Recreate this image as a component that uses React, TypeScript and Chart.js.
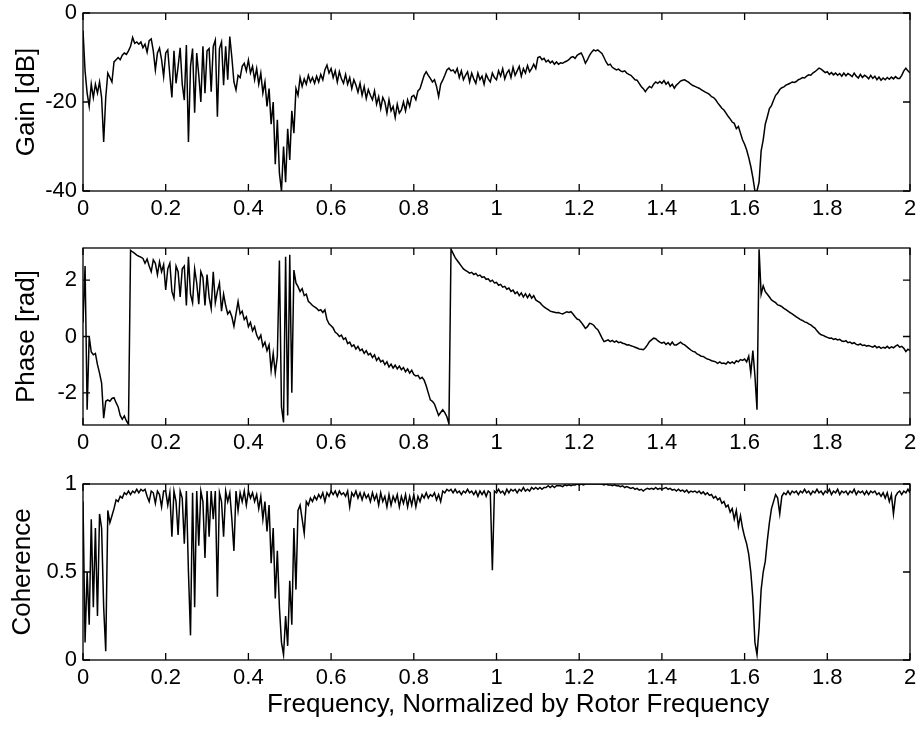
import React, { useEffect, useRef } from "react";
import { Chart, registerables } from "chart.js";

Chart.register(...registerables);

// Frequency grid (normalized by rotor frequency): 0 .. 2 in steps of 0.005 (401 samples)
const FREQ_STEP = 0.005;
const X_TICKS = [0, 0.2, 0.4, 0.6, 0.8, 1, 1.2, 1.4, 1.6, 1.8, 2];
const GAIN_TICKS = [-40, -20, 0];
const PHASE_TICKS = [-2, 0, 2];
const COH_TICKS = [0, 0.5, 1];

// Gain [dB], one row = 0.1 of frequency (20 samples)
const GAIN_DB = [
  -4, -13, -18, -21, -16, -19, -16, -18, -15.5, -19, -29, -19, -13.5, -14.5, -15.5, -11, -10.5, -10, -10.5, -9.5,
  -9, -9.3, -8.5, -7.5, -5.5, -6.8, -6.5, -7, -6.5, -7.8, -7, -8.8, -6.2, -5.8, -8.5, -12.8, -9, -7.9, -10.5, -14.3,
  -9, -8.3, -14, -19, -8.5, -15.8, -12, -7.8, -16, -19.6, -7.2, -29, -12, -8, -22.4, -9, -14, -20, -7.5, -18,
  -8.5, -8, -17.7, -7.5, -6.1, -23.3, -8, -6.5, -16.2, -7.5, -15, -5.3, -10, -15.5, -17.3, -14, -14.5, -12, -11.3, -13,
  -10.6, -13.5, -12, -15, -12.5, -16, -13.5, -18, -15.5, -21, -17, -25, -20, -34, -24, -36, -40, -30, -38, -26,
  -33, -22, -27, -17, -18.5, -14.5, -16.5, -14.8, -16, -14, -15.5, -14.5, -15.8, -14.2, -15.5, -13.8, -15, -12.8, -11.7, -13.5,
  -12.5, -14.5, -13, -15.5, -13.2, -14.8, -15.8, -13.8, -16, -14.5, -17, -15, -16.2, -17.8, -15.8, -18.5, -16.5, -19.2, -17.2, -18.5,
  -19.5, -17.5, -20.5, -18.8, -21.5, -19, -20, -22.5, -19.5, -22, -21, -23.5, -20.5, -22.5, -21.8, -20, -22, -19.5, -21, -18.8,
  -18.5, -19.5, -17.5, -17, -15.5, -14, -13.2, -14, -14.7, -15.5, -15, -16.5, -18.8, -16, -15.1, -14, -12.8, -12.4, -13, -12.8,
  -13.5, -12.5, -14.5, -13, -15, -14, -13.2, -15.5, -13.5, -14.8, -15.8, -13.5, -15, -14.2, -16, -13.8, -14.8, -15.5, -13.5, -14.5,
  -15, -13, -14.2, -12.5, -14.8, -13.5, -12.8, -14.5, -12.2, -14, -13, -12, -14.2, -12.5, -13.5, -11.8, -13.2, -12.5, -11.5, -12.5,
  -10, -9.8, -10.5, -10.2, -11, -10.6, -11.2, -10.8, -11.5, -11, -11.5, -11.2, -11.3, -11, -10.8, -10.5, -10, -9.8, -10.2, -9.5,
  -9.2, -9, -10, -11.3, -10.5, -9.5, -8.8, -8.3, -8.5, -8.3, -8.7, -9.1, -10, -11, -11.7, -11.5, -12.2, -12.5, -12.8, -12.6,
  -13, -13.2, -13, -13.5, -13.8, -14, -14.5, -15, -15.1, -15.8, -16.5, -17, -17.7, -17, -16.5, -16.8, -16, -15.5, -15.8, -15.4,
  -15.8, -15.2, -16, -15.5, -16.5, -16, -16.9, -16.2, -15.8, -15.3, -15.1, -15, -15.3, -15.6, -16, -16.3, -16.5, -16.7, -16.9, -17.2,
  -17.5, -17.8, -18, -18.3, -18.8, -19, -19.5, -20.2, -20.8, -21.4, -21.8, -22.5, -23.2, -23.8, -24.5, -24.8, -26, -25.5, -27, -28.5,
  -29.5, -30.8, -32.5, -34.5, -37, -40, -40, -38, -31, -28.5, -25, -23.3, -21.5, -20.8, -19.6, -18.5, -18, -17.2, -16.8, -16.6,
  -16.2, -16, -15.8, -15.5, -15.6, -15.4, -15, -14.8, -14.5, -14.6, -14.2, -13.9, -14, -13.5, -13.2, -12.8, -12.4, -12.6, -13, -13.4,
  -13.2, -13.8, -13.4, -13.9, -13.5, -14, -13.6, -14.2, -13.5, -14.1, -13.6, -13.9, -14.3, -13.5, -14.2, -14.6, -13.8, -14.5, -14, -14.3,
  -14.8, -14, -14.7, -14.2, -15, -14.4, -15.1, -14.6, -15, -14.5, -14.9, -14.4, -14.8, -14.3, -14.7, -14.7, -14, -13, -12.4, -13,
  -13.5,
];

// Phase [rad]
const PHASE_RAD = [
  0.5, 2.5, -2.6, 0, -0.55, -0.65, -0.6, -1.0, -1.3, -1.65, -2.9, -2.3, -2.25, -2.3, -2.2, -2.17, -2.35, -2.5, -2.8, -2.94,
  -2.82, -3.0, -3.12, 3.06, 3.0, 2.95, 2.89, 2.85, 2.82, 2.77, 2.6, 2.75, 2.5, 2.3, 2.72, 2.6, 2.2, 2.65, 2.3, 2.55,
  1.65, 2.4, 2.6, 1.6, 1.36, 2.5, 2.3, 1.4, 2.4, 2.5, 1.1, 2.83, 1.5, 1.2, 2.4, 1.9, 1.15, 2.3, 2.1, 1.1,
  2.2, 1.4, 1.0, 2.3, 1.2, 1.6, 1.9, 0.9, 1.5, 1.1, 0.8, 0.9, 0.7, 0.36, 0.8, 1.24, 0.8, 0.9, 0.6, 0.7,
  0.35, 0.5, 0.2, 0.35, 0.05, -0.1, 0.05, -0.35, -0.2, -0.5, -0.3, -1.2, -0.6, -1.3, -0.7, 2.7, -2.5, -3.05, 2.83, -2.8,
  2.9, -2.0, 2.36, 1.9, 1.77, 1.6, 1.7, 1.45, 1.5, 1.25, 1.18, 1.1, 1.05, 1.0, 0.92, 0.95, 0.85, 0.95, 0.6, 0.45,
  0.38, 0.3, 0.15, 0.1, 0.0, 0.05, -0.1, -0.05, -0.25, -0.2, -0.35, -0.3, -0.45, -0.35, -0.5, -0.45, -0.6, -0.5, -0.65, -0.6,
  -0.75, -0.65, -0.85, -0.75, -0.9, -0.85, -1.0, -0.9, -1.08, -0.98, -1.12, -1.02, -1.15, -1.05, -1.18, -1.1, -1.25, -1.15, -1.3, -1.2,
  -1.35, -1.4, -1.38, -1.5, -1.45, -1.55, -1.75, -2.0, -2.25, -2.3, -2.4, -2.6, -2.8, -2.7, -2.6, -2.7, -2.85, -3.1, 3.1, 2.95,
  2.8, 2.7, 2.6, 2.5, 2.4, 2.35, 2.3, 2.25, 2.28, 2.2, 2.24, 2.15, 2.18, 2.1, 2.12, 2.03, 2.05, 1.95, 2.0, 1.9,
  1.92, 1.82, 1.85, 1.75, 1.78, 1.68, 1.72, 1.6, 1.65, 1.52, 1.58, 1.45, 1.55, 1.4, 1.52, 1.38, 1.5, 1.36, 1.45, 1.3,
  1.25, 1.2, 1.12, 1.05, 1.0, 0.95, 0.9, 0.88, 0.86, 0.84, 0.85, 0.82, 0.8, 0.84, 0.88, 0.85, 0.88, 0.8, 0.7, 0.62,
  0.59, 0.5, 0.4, 0.29, 0.35, 0.47, 0.45, 0.4, 0.3, 0.24, 0.1, -0.05, -0.18, -0.15, -0.12, -0.18, -0.14, -0.2, -0.16, -0.22,
  -0.2, -0.24, -0.26, -0.3, -0.29, -0.33, -0.35, -0.38, -0.41, -0.44, -0.45, -0.47, -0.4, -0.3, -0.18, -0.12, -0.06, -0.08, -0.15, -0.2,
  -0.24, -0.2, -0.28, -0.22, -0.3, -0.2, -0.3, -0.3, -0.25, -0.2, -0.26, -0.3, -0.36, -0.42, -0.48, -0.53, -0.55, -0.62, -0.65, -0.7,
  -0.71, -0.76, -0.8, -0.82, -0.86, -0.88, -0.9, -0.95, -0.9, -0.96, -0.94, -0.98, -0.9, -0.95, -0.9, -0.96, -0.86, -0.9, -0.82, -0.85,
  -0.8, -0.9, -0.7, -1.3, -0.5, -1.4, -2.6, 3.1, 1.5, 1.8, 1.59, 1.5, 1.4, 1.3, 1.25, 1.2, 1.12, 1.1, 1.06, 1.0,
  0.95, 0.9, 0.85, 0.8, 0.75, 0.7, 0.65, 0.6, 0.57, 0.52, 0.5, 0.45, 0.41, 0.35, 0.3, 0.2, 0.12, 0.06, 0.04, 0.0,
  -0.03, -0.06, -0.05, -0.1, -0.08, -0.12, -0.1, -0.16, -0.18, -0.15, -0.22, -0.2, -0.25, -0.22, -0.28, -0.3, -0.26, -0.32, -0.3, -0.34,
  -0.32, -0.35, -0.38, -0.33, -0.4, -0.36, -0.42, -0.38, -0.41, -0.35, -0.42, -0.37, -0.4, -0.34, -0.3, -0.38, -0.35, -0.42, -0.53, -0.45,
  -0.5,
];

// Coherence
const COHERENCE = [
  0.9, 0.1, 0.5, 0.2, 0.8, 0.3, 0.75, 0.25, 0.83, 0.75, 0.3, 0.05, 0.85, 0.78, 0.82, 0.86, 0.91, 0.9, 0.93, 0.92,
  0.95, 0.94, 0.96, 0.94, 0.96, 0.95, 0.97, 0.95, 0.97, 0.96, 0.97, 0.93, 0.9, 0.96, 0.95, 0.89, 0.96, 0.94, 0.87, 0.96,
  0.96, 0.88, 0.95, 0.7, 0.96, 0.9, 0.71, 0.96, 0.92, 0.66, 0.96, 0.5, 0.14, 0.95, 0.3, 0.96, 0.65, 0.96, 0.9, 0.58,
  0.96, 0.7, 0.96, 0.8, 0.96, 0.36, 0.95, 0.9, 0.7, 0.96, 0.9, 0.95, 0.8, 0.62, 0.96, 0.85, 0.95, 0.9, 0.96, 0.88,
  0.96, 0.92, 0.95, 0.9, 0.94, 0.86, 0.93, 0.8, 0.9, 0.73, 0.88, 0.55, 0.75, 0.35, 0.62, 0.3, 0.1, 0.03, 0.25, 0.08,
  0.45, 0.2, 0.75, 0.4, 0.85, 0.88, 0.8, 0.72, 0.9, 0.88, 0.92, 0.9, 0.93, 0.91, 0.94, 0.92, 0.95, 0.9, 0.95, 0.93,
  0.96, 0.94, 0.96, 0.93, 0.96, 0.94, 0.95, 0.93, 0.96, 0.87, 0.95, 0.93, 0.96, 0.92, 0.95, 0.91, 0.95, 0.92, 0.94, 0.9,
  0.95, 0.91, 0.94, 0.88, 0.95, 0.9, 0.93, 0.87, 0.94, 0.88, 0.93, 0.9, 0.94, 0.87, 0.93, 0.89, 0.94, 0.87, 0.93, 0.88,
  0.94, 0.87, 0.93, 0.9, 0.94, 0.92, 0.95, 0.92, 0.94, 0.93, 0.95, 0.91, 0.94, 0.9, 0.96, 0.95, 0.97, 0.96, 0.97, 0.95,
  0.97, 0.95, 0.96, 0.94, 0.96, 0.95, 0.97, 0.95, 0.96, 0.94, 0.96, 0.93, 0.96, 0.94, 0.96, 0.93, 0.96, 0.95, 0.51, 0.96,
  0.95, 0.97, 0.95, 0.96, 0.94, 0.97, 0.95, 0.97, 0.96, 0.97, 0.95, 0.97, 0.96, 0.98, 0.96, 0.97, 0.96, 0.98, 0.97, 0.98,
  0.97, 0.98, 0.97, 0.98, 0.98, 0.99, 0.98, 0.99, 0.98, 0.99, 0.99, 0.99, 0.985, 0.995, 0.99, 0.995, 0.99, 0.995, 0.995, 1.0,
  0.995, 1.0, 0.995, 1.0, 1.0, 1.0, 1.0, 1.0, 1.0, 1.0, 1.0, 1.0, 0.995, 1.0, 0.995, 0.995, 0.99, 0.995, 0.99, 0.99,
  0.985, 0.99, 0.98, 0.985, 0.98, 0.975, 0.98, 0.97, 0.975, 0.965, 0.97, 0.96, 0.97, 0.975, 0.97, 0.975, 0.97, 0.98, 0.97, 0.975,
  0.97, 0.975, 0.98, 0.97, 0.975, 0.965, 0.97, 0.96, 0.97, 0.96, 0.965, 0.955, 0.965, 0.95, 0.96, 0.955, 0.96, 0.95, 0.96, 0.945,
  0.955, 0.94, 0.95, 0.935, 0.94, 0.92, 0.93, 0.91, 0.92, 0.89, 0.9, 0.87, 0.88, 0.84, 0.86, 0.8, 0.85, 0.76, 0.82, 0.75,
  0.7, 0.66, 0.6, 0.5, 0.35, 0.1, 0.03, 0.18, 0.4, 0.5, 0.56, 0.68, 0.78, 0.86, 0.9, 0.94, 0.92, 0.83, 0.93, 0.95,
  0.94, 0.96, 0.94, 0.96, 0.95, 0.96, 0.94, 0.96, 0.95, 0.97, 0.95, 0.96, 0.94, 0.96, 0.95, 0.97, 0.95, 0.96, 0.94, 0.96,
  0.95, 0.97, 0.94, 0.96, 0.95, 0.97, 0.94, 0.96, 0.95, 0.96, 0.94, 0.96, 0.95, 0.97, 0.94, 0.96, 0.95, 0.96, 0.94, 0.96,
  0.94, 0.96, 0.95, 0.96, 0.94, 0.95, 0.93, 0.95, 0.92, 0.95, 0.9, 0.94, 0.83, 0.93, 0.95, 0.96, 0.94, 0.96, 0.95, 0.97,
  0.95,
];

const FONT = "'Liberation Sans', Arial, Helvetica, sans-serif";
const TICK_FONT = { family: FONT, size: 22 };
const TITLE_FONT = { family: FONT, size: 26 };

function toPoints(values: number[]) {
  return values.map((v, i) => ({ x: Math.round(i * FREQ_STEP * 1000) / 1000, y: v }));
}

const framePlugin = {
  id: "frameTicks",
  afterDraw(chart: any) {
    const { ctx, chartArea: a, scales } = chart;
    const xs = scales.x;
    const ys = scales.y;
    const L = 7;
    ctx.save();
    ctx.strokeStyle = "#000";
    ctx.lineWidth = 1.3;
    ctx.strokeRect(a.left, a.top, a.right - a.left, a.bottom - a.top);
    ctx.beginPath();
    xs.ticks.forEach((t: any) => {
      const p = xs.getPixelForValue(t.value);
      ctx.moveTo(p, a.bottom);
      ctx.lineTo(p, a.bottom - L);
      ctx.moveTo(p, a.top);
      ctx.lineTo(p, a.top + L);
    });
    ys.ticks.forEach((t: any) => {
      const p = ys.getPixelForValue(t.value);
      ctx.moveTo(a.left, p);
      ctx.lineTo(a.left + L, p);
      ctx.moveTo(a.right, p);
      ctx.lineTo(a.right - L, p);
    });
    ctx.stroke();
    ctx.restore();
  },
};

type PanelProps = {
  top: number;
  height: number;
  padTop: number;
  xAxisHeight: number;
  values: number[];
  yMin: number;
  yMax: number;
  yTicks: number[];
  yTitle: string;
  yTitlePad: number;
  xTitle?: string;
};

function Panel(p: PanelProps) {
  const ref = useRef<HTMLCanvasElement | null>(null);
  useEffect(() => {
    if (!ref.current) return;
    const chart = new Chart(ref.current, {
      type: "line",
      data: {
        datasets: [
          {
            data: toPoints(p.values),
            borderColor: "#000",
            borderWidth: 1.5,
            pointRadius: 0,
            fill: false,
            tension: 0,
          },
        ],
      },
      options: {
        animation: false,
        responsive: false,
        maintainAspectRatio: false,
        devicePixelRatio: 1,
        layout: { padding: { left: 0, right: 8, top: p.padTop, bottom: 0 } },
        plugins: { legend: { display: false }, tooltip: { enabled: false } },
        scales: {
          x: {
            type: "linear",
            min: 0,
            max: 2,
            grid: { display: false, drawTicks: false },
            border: { display: false },
            afterBuildTicks: (s: any) => {
              s.ticks = X_TICKS.map((v) => ({ value: v }));
            },
            afterFit: (s: any) => {
              s.height = p.xAxisHeight;
              s.paddingLeft = 0;
              s.paddingRight = 0;
            },
            ticks: {
              autoSkip: false,
              maxRotation: 0,
              padding: 5,
              color: "#000",
              font: TICK_FONT,
              callback: (v: any) => String(Number(Number(v).toFixed(1))),
            },
            title: p.xTitle
              ? {
                  display: true,
                  text: p.xTitle,
                  color: "#000",
                  font: TITLE_FONT,
                  padding: { top: 0, bottom: 12 },
                }
              : { display: false },
          },
          y: {
            type: "linear",
            min: p.yMin,
            max: p.yMax,
            grid: { display: false, drawTicks: false },
            border: { display: false },
            afterBuildTicks: (s: any) => {
              s.ticks = p.yTicks.map((v) => ({ value: v }));
            },
            afterFit: (s: any) => {
              s.width = 83;
              s.paddingTop = 0;
              s.paddingBottom = 0;
            },
            ticks: {
              autoSkip: false,
              padding: 6,
              color: "#000",
              font: TICK_FONT,
              callback: (v: any) => String(Number(Number(v).toFixed(1))),
            },
            title: {
              display: true,
              text: p.yTitle,
              color: "#000",
              font: TITLE_FONT,
              padding: { top: p.yTitlePad, bottom: 0 },
            },
          },
        },
      },
      plugins: [framePlugin],
    } as any);
    return () => chart.destroy();
  }, []);
  return (
    <canvas
      ref={ref}
      width={918}
      height={p.height}
      style={{ position: "absolute", left: 0, top: p.top, width: 918, height: p.height }}
    />
  );
}

export default function App() {
  return (
    <div style={{ position: "absolute", left: 0, top: 0, width: 918, height: 732, background: "#fff" }}>
      <Panel top={0} height={222} padTop={13} xAxisHeight={31} values={GAIN_DB} yMin={-40} yMax={0}
        yTicks={GAIN_TICKS} yTitle="Gain [dB]" yTitlePad={11} />
      <Panel top={224} height={230} padTop={24} xAxisHeight={29} values={PHASE_RAD} yMin={-Math.PI}
        yMax={Math.PI} yTicks={PHASE_TICKS} yTitle="Phase [rad]" yTitlePad={11} />
      <Panel top={456} height={276} padTop={28} xAxisHeight={72} values={COHERENCE} yMin={0} yMax={1}
        yTicks={COH_TICKS} yTitle="Coherence" yTitlePad={7}
        xTitle={"      Frequency, Normalized by Rotor Frequency"} />
    </div>
  );
}
